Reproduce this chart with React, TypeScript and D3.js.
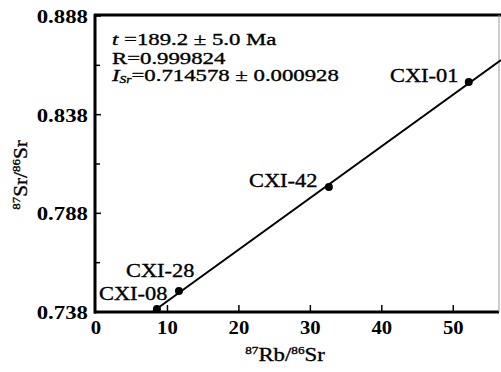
import React from "react";
import * as d3 from "d3";

// Rb–Sr isochron samples
const sampleNames = ["CXI-08", "CXI-28", "CXI-42", "CXI-01"];
const rbSr = [8.53, 11.61, 32.59, 52.17];
const srSr = [0.7395, 0.7486, 0.8013, 0.8546];

const xTicks = [0, 10, 20, 30, 40, 50];
const yTicks = [0.738, 0.788, 0.838, 0.888];
const yMinor = [0.763, 0.813, 0.863];

const ageText = "=189.2 ± 5.0 Ma";
const rText = "R=0.999824";
const isrText = "=0.714578 ± 0.000928";

const W = 501;
const H = 372;
const FONT = "'Liberation Serif', 'Times New Roman', serif";

const x = d3.scaleLinear().domain([0, 56.4]).range([96, 499]);
const y = d3.scaleLinear().domain([0.738, 0.888]).range([312, 16]);

// least-squares isochron through the samples
const mx = d3.mean(rbSr) as number;
const my = d3.mean(srSr) as number;
const sxy = d3.sum(rbSr.map((v, i) => (v - mx) * (srSr[i] - my)));
const sxx = d3.sum(rbSr.map((v) => (v - mx) * (v - mx)));
const slope = sxy / sxx;
const intercept = my - slope * mx;
const xStart = (0.738 - intercept) / slope;
const xEnd = x.invert(501);
const lineGen = d3
  .line<number>()
  .x((d) => x(d))
  .y((d) => y(intercept + slope * d));

type TProps = {
  x: number;
  y: number;
  size?: number;
  sx?: number;
  anchor?: "start" | "middle" | "end";
  bold?: boolean;
  rotate?: number;
  children: React.ReactNode;
};

function T({ x: tx, y: ty, size = 19, sx = 1.2, anchor = "start", bold = false, rotate = 0, children }: TProps) {
  return (
    <g transform={`translate(${tx},${ty}) rotate(${rotate}) scale(${sx},1)`}>
      <text
        fontFamily={FONT}
        fontSize={size}
        fontWeight={bold ? "bold" : "normal"}
        textAnchor={anchor}
        fill="#000"
        stroke="#000"
        strokeWidth={bold ? 0 : 0.35}
      >
        {children}
      </text>
    </g>
  );
}

const labelPos: Record<string, { x: number; y: number; anchor: "start" | "end" }> = {
  "CXI-08": { x: 99, y: 300, anchor: "start" },
  "CXI-28": { x: 126, y: 277, anchor: "start" },
  "CXI-42": { x: 249, y: 187, anchor: "start" },
  "CXI-01": { x: 390, y: 82, anchor: "start" },
};

export default function App() {
  return (
    <svg
      width={W}
      height={H}
      style={{ position: "absolute", left: 0, top: 0, background: "#fff" }}
    >
      <rect width={W} height={H} fill="#fff" />

      {/* frame */}
      <line x1={94} x2={501} y1={15} y2={15} stroke="#000" strokeWidth={3} />
      <line x1={95} x2={95} y1={14} y2={313.5} stroke="#000" strokeWidth={3} />
      <line x1={94} x2={499} y1={312} y2={312} stroke="#000" strokeWidth={3} />
      <line x1={499} x2={499} y1={15} y2={312} stroke="#999" strokeWidth={1} />

      {/* y ticks */}
      {yTicks.map((t) => (
        <g key={"yt" + t}>
          <line x1={95} x2={101} y1={y(t)} y2={y(t)} stroke="#000" strokeWidth={1.5} />
          <T x={88} y={y(t) + 7} anchor="end" bold size={19} sx={1.2}>
            {t.toFixed(3)}
          </T>
        </g>
      ))}
      {yMinor.map((t) => (
        <line key={"ym" + t} x1={95} x2={100} y1={y(t)} y2={y(t)} stroke="#000" strokeWidth={1.5} />
      ))}

      {/* x ticks */}
      {xTicks.map((t) => (
        <g key={"xt" + t}>
          {t > 0 && (
            <line x1={x(t)} x2={x(t)} y1={312} y2={305} stroke="#000" strokeWidth={1.5} />
          )}
          <T x={x(t)} y={334} anchor="middle" bold size={18} sx={1.15}>
            {t}
          </T>
        </g>
      ))}

      {/* axis titles */}
      <T x={285} y={361} anchor="middle" size={19} sx={1.2}>
        <tspan fontSize={11} dy={-7}>87</tspan>
        <tspan dy={7}>Rb/</tspan>
        <tspan fontSize={11} dy={-7}>86</tspan>
        <tspan dy={7}>Sr</tspan>
      </T>
      <T x={27} y={175} anchor="middle" size={18} sx={1.18} rotate={-90}>
        <tspan fontSize={11} dy={-7}>87</tspan>
        <tspan dy={7}>Sr/</tspan>
        <tspan fontSize={11} dy={-7}>86</tspan>
        <tspan dy={7}>Sr</tspan>
      </T>

      {/* isochron */}
      <path d={lineGen([xStart, xEnd]) as string} stroke="#000" strokeWidth={2} fill="none" />

      {/* samples */}
      {rbSr.map((v, i) => (
        <circle key={sampleNames[i]} cx={x(v)} cy={y(srSr[i])} r={4} fill="#000" />
      ))}
      {sampleNames.map((n) => (
        <T key={"l" + n} x={labelPos[n].x} y={labelPos[n].y} anchor={labelPos[n].anchor} size={19} sx={1.18}>
          {n}
        </T>
      ))}

      {/* isochron statistics */}
      <T x={112} y={45} size={17} sx={1.34}>
        <tspan fontStyle="italic">t</tspan>
        <tspan> {ageText}</tspan>
      </T>
      <T x={112} y={63.5} size={17} sx={1.34}>
        {rText}
      </T>
      <T x={112} y={81} size={17} sx={1.34}>
        <tspan fontStyle="italic">I</tspan>
        <tspan fontStyle="italic" fontSize={10} dy={2}>Sr</tspan>
        <tspan dy={-2}>{isrText}</tspan>
      </T>
    </svg>
  );
}
